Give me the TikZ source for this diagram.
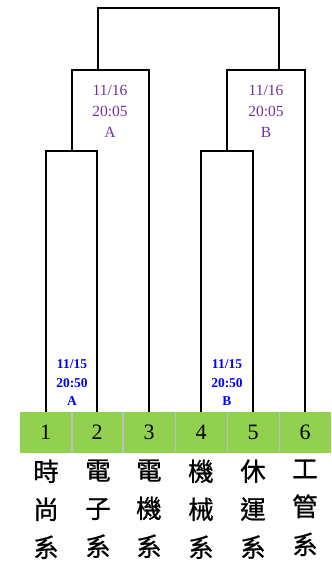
\documentclass[tikz,border=0pt]{standalone}
\usepackage{fontspec}
\setmainfont{Liberation Serif}
\newfontfamily\cjk[FakeBold=0.8]{Noto Sans CJK TC}
\definecolor{cellgreen}{HTML}{92D050}
\definecolor{sepgray}{HTML}{C0C0C0}
\definecolor{finalpurple}{HTML}{7030A0}
\definecolor{semiblue}{HTML}{0000FF}
\begin{document}
\begin{tikzpicture}[x=1pt,y=-1pt,
  cell/.style={fill=cellgreen,draw=none,minimum width=52pt,minimum height=41pt,inner sep=0pt,
    font=\fontsize{22}{22}\selectfont,anchor=north west},
  link/.style={draw=black,line width=2pt},
  sep/.style={draw=sepgray,line width=1.5pt},
  semilabel/.style={text=semiblue,font=\bfseries\fontsize{13.5}{18.5}\selectfont,align=center},
  finallabel/.style={text=finalpurple,font=\fontsize{15.5}{21}\selectfont,align=center},
  dept/.style={font=\cjk\fontsize{25.5}{38}\selectfont,align=center,anchor=north}]
\useasboundingbox (0,0) rectangle (332,563);
% cells
\node[cell] (c1) at (19.5,412) {1};
\node[cell,minimum width=51pt] (c2) at (71.5,412) {2};
\node[cell] (c3) at (123,412) {3};
\node[cell] (c4) at (175,412) {4};
\node[cell] (c5) at (227,412) {5};
\node[cell] (c6) at (279,412) {6};
\draw[sep] (c1.north east) -- (c1.south east);
\draw[sep] (c2.north east) -- (c2.south east);
\draw[sep] (c3.north east) -- (c3.south east);
\draw[sep] (c4.north east) -- (c4.south east);
\draw[sep] (c5.north east) -- (c5.south east);
% junctions
\coordinate (jA) at (72,151);
\coordinate (jAu) at (72,70);
\coordinate (jB) at (227,151);
\coordinate (jBu) at (227,70);
\coordinate (fA) at (98,70);
\coordinate (fB) at (279,70);
\coordinate (top) at (190,8);
% connectors
\draw[link] (c1.north) |- (jA) -| (c2.north);
\draw[link] (jA) -- (jAu) -| (c3.north);
\draw[link] (c4.north) |- (jB) -| (c5.north);
\draw[link] (jB) -- (jBu) -| (c6.north);
\draw[link] (fA) |- (top) -| (fB);
% labels
\node[semilabel] (sA) at (72,383) {11/15\\20:50\\A};
\node[semilabel] (sB) at (227,383) {11/15\\20:50\\B};
\node[finallabel] (fAl) at (110,111) {11/16\\20:05\\A};
\node[finallabel] (fBl) at (266,111) {11/16\\20:05\\B};
% departments
\node[dept] (d1) at (46,456) {時\\尚\\系};
\node[dept] (d2) at (98,456) {電\\子\\系};
\node[dept] (d3) at (149,456) {電\\機\\系};
\node[dept] (d4) at (201,456) {機\\械\\系};
\node[dept] (d5) at (253,456) {休\\運\\系};
\node[dept] (d6) at (305,456) {工\\管\\系};
\end{tikzpicture}
\end{document}
